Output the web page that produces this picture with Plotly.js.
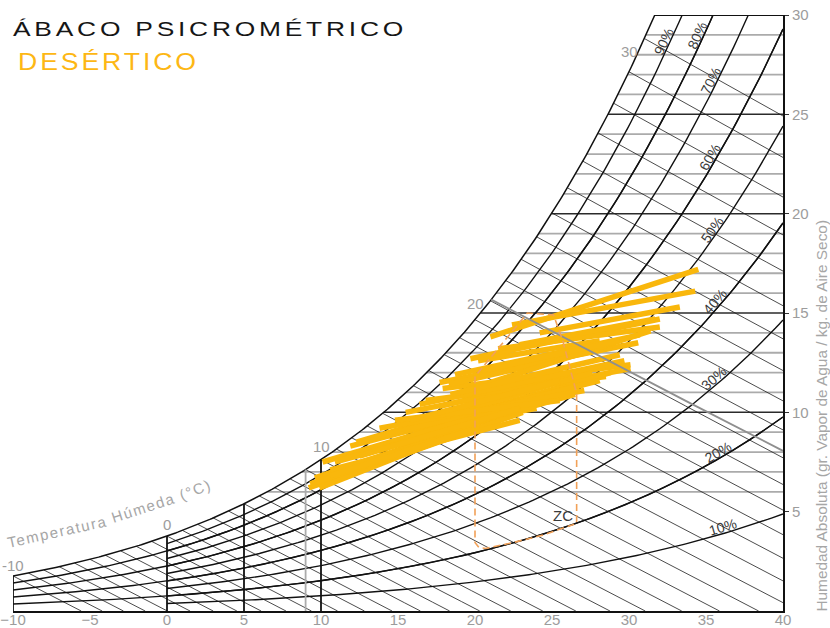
<!DOCTYPE html>
<html>
<head>
<meta charset="utf-8">
<script src="https://cdn.plot.ly/plotly-3.0.1.min.js"></script>
<style>html,body{margin:0;padding:0;background:#fff}</style>
</head>
<body>
<div id="chart" style="width:830px;height:628px"></div>
<script>
// ---- Axis ticks ----
const dryBulbTicks = [-10, -5, 0, 5, 10, 15, 20, 25, 30, 35, 40];   // °C
const humidityTicks = [5, 10, 15, 20, 25, 30];                       // g/kg

// ---- Chart grid ----
const rhCurves = [10, 20, 30, 40, 50, 60, 70, 80, 90];        // % RH (from 0 °C)
const rhBelowZero = [20, 40, 60, 80];                         // % RH drawn from -10 °C
const rhLabelTemps = [36.2, 36.0, 35.8, 35.9, 35.7, 35.6, 35.65, 34.8, 32.6];
const wetBulbFirst = -10, wetBulbLast = 31;                   // wet-bulb lines every 1 °C
const wetBulbLabels = [-10, 0, 10, 20, 30];
const humidityLines = [6, 7, 8, 9, 11, 12, 13, 14, 16, 17, 18, 19, 21, 22, 23, 24, 26, 27, 28, 29];
const humidityLinesMain = [10, 15, 20, 25];
const dryBulbLines = [0, 5, 10];
const dryBulbLinesGray = [9];
const enthalpyRef = 61;                                       // kJ/kg

// ---- Daily ranges: (Tmin, w) -> (Tmax, w) ----
const dayStartT = [21.0, 22.4, 24.2, 19.7, 21.5, 17.7, 17.9, 18.3, 20.2, 17.7, 17.7, 15.5, 15.1, 16.8, 12.3,
                   11.9, 10.1, 9.6, 9.2, 9.9, 10.6, 11.6, 12.9, 13.8, 9.3, 16.4, 18.7, 14.8, 10.9, 19.0,
                   10.6, 12.5, 15.8, 18.4, 20.3, 22.9];
const dayStartW = [13.8, 14.4, 14.0, 12.7, 13.2, 11.5, 11.2, 11.4, 12.6, 9.5, 10.3, 10.0, 9.0, 10.6, 8.5,
                   8.3, 7.5, 6.7, 6.2, 6.2, 7.1, 7.7, 8.6, 9.2, 6.4, 10.4, 11.9, 9.6, 7.5, 11.0,
                   6.8, 7.8, 9.6, 10.9, 12.1, 13.4];
const dayEndT   = [34.5, 34.3, 33.3, 32.0, 32.0, 30.6, 30.1, 28.9, 28.1, 28.8, 28.9, 30.1, 24.0, 28.5, 27.6,
                   27.0, 25.8, 24.6, 23.1, 18.1, 22.9, 26.5, 28.1, 27.1, 20.3, 29.7, 30.7, 25.5, 20.3, 31.4,
                   19.7, 22.9, 25.5, 29.4, 29.4, 31.7];
const dayEndW   = [17.2, 16.1, 15.3, 14.7, 14.3, 13.5, 12.4, 13.3, 13.6, 12.0, 12.4, 12.2, 10.2, 11.8, 12.0,
                   11.4, 11.1, 10.6, 10.0, 8.7, 9.6, 10.9, 11.6, 11.1, 9.2, 12.6, 13.9, 10.6, 9.5, 14.1,
                   9.1, 10.2, 11.6, 12.9, 13.6, 14.7];

// ---- Comfort zone (ZC) outline ----
const zcT = [20.0, 20.0, 20.25, 20.7, 22.5, 24.4, 26.6, 26.6, 25.7, 25.1, 23.4, 20.0];
const zcW = [11.8, 3.45, 3.2, 3.15, 3.45, 3.82, 4.41, 10.95, 13.6, 14.9, 15.0, 11.8];

// ---- Psychrometrics (sea level) ----
const P = 101.325;
const pws = T => 0.61094 * Math.exp(17.625 * T / (T + 243.04));
const ws = T => { const p = pws(T); return 622 * p / (P - p); };           // g/kg
function solve(f, target, lo, hi) {
  for (let i = 0; i < 80; i++) { const m = (lo + hi) / 2; if (f(m) < target) lo = m; else hi = m; }
  return (lo + hi) / 2;
}
const tSat = w => solve(ws, w, -30, 60);
function wWetBulb(T, Twb) {
  const Ws = ws(Twb) / 1000;
  return 1000 * ((2501 - 2.326 * Twb) * Ws - 1.006 * (T - Twb)) / (2501 + 1.86 * T - 4.186 * Twb);
}
const wEnthalpy = (T, h) => 1000 * (h - 1.006 * T) / (2501 + 1.86 * T);

const T_MIN = -10, T_MAX = 40, W_MAX = 30;

function acc() { return { x: [], y: [] }; }
function push(a, xs, ys) { a.x.push(...xs, null); a.y.push(...ys, null); }
function sample(t0, t1, n, f) {
  const xs = [], ys = [];
  for (let i = 0; i <= n; i++) { const t = t0 + (t1 - t0) * i / n; xs.push(t); ys.push(f(t)); }
  return [xs, ys];
}

// horizontal humidity lines
const hGray = acc(), hMain = acc();
humidityLines.forEach(w => push(hGray, [tSat(w), T_MAX], [w, w]));
humidityLinesMain.forEach(w => push(hMain, [tSat(w), T_MAX], [w, w]));

// wet-bulb lines
const wb = acc();
for (let t = wetBulbFirst; t <= wetBulbLast; t++) {
  const Ws = ws(t) / 1000;
  let tEnd = t + (2501 - 2.326 * t) * Ws / 1.006;
  if (tEnd > T_MAX) tEnd = T_MAX;
  const [xs, ys] = sample(t, tEnd, 12, T => Math.max(0, wWetBulb(T, t)));
  push(wb, xs, ys);
}

// relative humidity curves
const rh = acc();
function rhCurve(r, t0) {
  const f = T => r / 100 * ws(T);
  const tEnd = Math.min(T_MAX, solve(f, W_MAX, -30, 80));
  const [xs, ys] = sample(t0, tEnd, 160, f);
  push(rh, xs, ys);
}
rhCurves.forEach(r => rhCurve(r, 0));
rhBelowZero.forEach(r => rhCurve(r, T_MIN));
const [satX, satY] = sample(T_MIN, tSat(W_MAX), 300, ws);

// dry-bulb verticals
const vMain = acc(), vGray = acc();
dryBulbLines.forEach(t => push(vMain, [t, t], [0, ws(t)]));
dryBulbLinesGray.forEach(t => push(vGray, [t, t], [0, ws(t)]));

// left and top edges of the chart frame
const frame = acc();
push(frame, [T_MIN, T_MIN], [0, ws(T_MIN)]);
push(frame, [tSat(W_MAX), T_MAX], [W_MAX, W_MAX]);

// reference enthalpy line
const tEnt = solve(T => ws(T) - wEnthalpy(T, enthalpyRef), 0, 0, 40);
const [entX, entY] = sample(tEnt, T_MAX, 30, T => wEnthalpy(T, enthalpyRef));

// daily ranges
const days = acc();
dayStartT.forEach((t, i) => push(days, [t, dayEndT[i]], [dayStartW[i], dayEndW[i]]));

const line = (a, color, width, extra) => Object.assign({
  type: 'scatter', mode: 'lines', x: a.x, y: a.y, hoverinfo: 'skip', showlegend: false,
  line: { color: color, width: width }, connectgaps: false
}, extra || {});

const traces = [
  line(hGray, '#ababab', 1.8),
  line(hMain, '#2b2b2b', 1.5),
  line(wb, '#1e1e1e', 0.8),
  line(rh, '#111111', 1.4),
  line({ x: satX, y: satY }, '#111111', 1.5, { cliponaxis: false }),
  line(vGray, '#ababab', 1.8),
  line(vMain, '#111111', 1.8),
  line(frame, '#111111', 1.8, { cliponaxis: false }),
  line(days, '#F9B70C', 5.5),
  line({ x: entX, y: entY }, '#8f8f8f', 1.8),
  line({ x: zcT, y: zcW }, '#F2A158', 1.6, { line: { color: '#F2A158', width: 1.6, dash: '7px,4px' } })
];

// ---- Annotations ----
const pxT = 770 / (T_MAX - T_MIN), pxW = 596 / W_MAX;
const slopePx = (f, T) => (f(T + 0.01) - f(T - 0.01)) / 0.02 * pxW / pxT;
const deg = s => Math.atan(s) * 180 / Math.PI;
const annotations = [];
const sans = 'Liberation Sans, Arial, sans-serif';
const grayFont = { family: sans, size: 15, color: '#9c9c9c' };

rhCurves.forEach((r, i) => {
  const T = rhLabelTemps[i];
  const f = t => r / 100 * ws(t);
  const s = slopePx(f, T), n = Math.sqrt(1 + s * s);
  annotations.push({
    x: T, y: f(T), text: r + '%', showarrow: false, textangle: -deg(s),
    xshift: -6 * s / n, yshift: 6 / n,
    font: { family: sans, size: 14, color: '#3a3a3a' }
  });
});

wetBulbLabels.forEach(t => {
  const s = slopePx(ws, t);
  annotations.push({ x: t, y: ws(t), text: String(t), showarrow: false, yshift: 10 + 5 * s, font: grayFont });
});

// axis caption following the saturation curve
[['Temperatura', -7.1], ['Húmeda', -1.5], ['(°C)', 1.85]].forEach(([word, t]) => {
  annotations.push({
    x: t, y: ws(t), text: word, showarrow: false, yshift: 36, textangle: -deg(slopePx(ws, t)),
    font: { family: sans, size: 15, color: '#a6a6a6' }
  });
});

annotations.push({
  x: 25.7, y: 4.8, text: 'ZC', showarrow: false,
  font: { family: sans, size: 15, color: '#3a3a3a' }
});

annotations.push({
  xref: 'paper', yref: 'paper', x: 1.0494, y: 0.328, xanchor: 'center', yanchor: 'middle',
  textangle: -90, showarrow: false,
  text: 'Humedad Absoluta (gr. Vapor de Agua / kg. de Aire Seco)',
  font: { family: sans, size: 15.4, color: '#a6a6a6' }
});

annotations.push({
  xref: 'paper', yref: 'paper', x: 0.004, y: 0.9216, xanchor: 'left', yanchor: 'middle', align: 'left',
  text: 'DESÉRTICO', showarrow: false,
  font: { family: sans, size: 23, color: '#FDB714' }
});

const layout = {
  width: 830, height: 628,
  margin: { l: 13, r: 47, t: 15, b: 17, pad: 0 },
  paper_bgcolor: '#ffffff', plot_bgcolor: '#ffffff',
  showlegend: false, hovermode: false,
  title: {
    text: 'ÁBACO PSICROMÉTRICO',
    x: 13 / 830, xref: 'container', xanchor: 'left',
    y: 1 - 28.5 / 628, yref: 'container', yanchor: 'middle',
    font: { family: sans, size: 21, color: '#161616' }
  },
  xaxis: {
    range: [T_MIN, T_MAX], tickvals: dryBulbTicks, showgrid: false, zeroline: false,
    showline: true, linecolor: '#111', linewidth: 2, ticks: '', fixedrange: true,
    tickfont: grayFont, automargin: false, ticklabelstandoff: -6
  },
  yaxis: {
    range: [0, W_MAX], tickvals: humidityTicks, side: 'right', showgrid: false, zeroline: false,
    showline: true, linecolor: '#111', linewidth: 2, ticks: 'outside', ticklen: 4, tickcolor: '#333',
    tickfont: grayFont, automargin: false, fixedrange: true
  },
  annotations: annotations
};

function stretch(el, spacing, length) {
  el.style.letterSpacing = spacing;
  el.setAttribute('textLength', length);
  el.setAttribute('lengthAdjust', 'spacingAndGlyphs');
}

Plotly.newPlot('chart', traces, layout, { staticPlot: true, displayModeBar: false }).then(gd => {
  // wide, airy heading lettering
  const t = gd.querySelector('.gtitle');
  if (t) stretch(t, '3px', 394);
  gd.querySelectorAll('.annotation-text').forEach(el => {
    const txt = el.textContent;
    if (txt === 'DESÉRTICO') stretch(el, '2.5px', 181);
    if (txt === 'Temperatura' || txt === 'Húmeda' || txt === '(°C)') el.style.letterSpacing = '1.6px';
  });
});
</script>
</body>
</html>
